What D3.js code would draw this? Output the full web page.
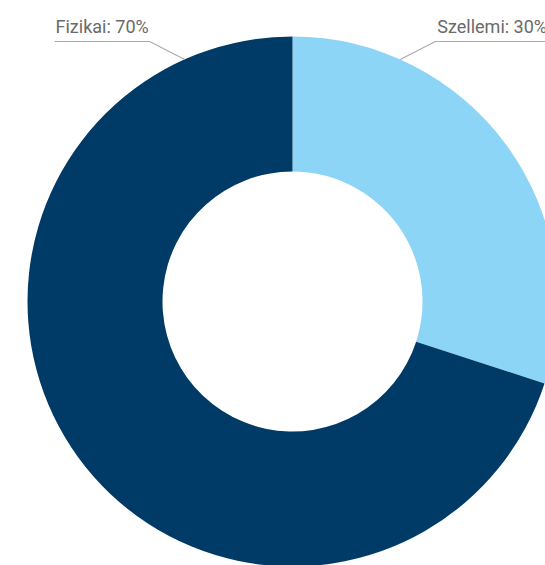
<!DOCTYPE html>
<html>
<head>
<meta charset="utf-8">
<script src="https://cdn.jsdelivr.net/npm/d3@7"></script>
<style>
  html, body { margin: 0; padding: 0; background: #fff; overflow: hidden; }
  svg { display: block; }
</style>
</head>
<body>
<svg id="chart" width="545" height="565"></svg>
<script>
// Share of work types
const categories = ["Szellemi", "Fizikai"];
const values = [30, 70];
const colors = ["#8dd5f6", "#003b67"];

const width = 545, height = 565;
const cx = 292.5, cy = 301.5;
const outerR = 265, innerR = 130;

const svg = d3.select("#chart");
const g = svg.append("g").attr("transform", `translate(${cx},${cy})`);

const data = categories.map((c, i) => ({ name: c, value: values[i], color: colors[i] }));
const pie = d3.pie().value(d => d.value).sort(null);
const arc = d3.arc().innerRadius(innerR).outerRadius(outerR);
const arcs = pie(data);

g.selectAll("path.slice")
  .data(arcs)
  .join("path")
  .attr("class", "slice")
  .attr("d", arc)
  .attr("fill", d => d.data.color);

// Leader lines and labels sit above the ring, one on each side of the top
const anchorOffset = 24 * Math.PI / 180;
const elbowDx = 35;
const lineY = -outerR + 5;

arcs.forEach(d => {
  const right = (d.startAngle + d.endAngle) / 2 < Math.PI;
  const a = right ? d.startAngle + anchorOffset : d.endAngle - anchorOffset;
  const ax = outerR * Math.sin(a), ay = -outerR * Math.cos(a);
  const ex = ax + (right ? elbowDx : -elbowDx);
  const ey = lineY;

  const label = g.append("text")
    .attr("x", right ? ex + 2 : ex - 1)
    .attr("y", ey - 9)
    .attr("text-anchor", right ? "start" : "end")
    .attr("font-family", "Roboto, 'Noto Sans', sans-serif")
    .attr("font-size", 18)
    .attr("fill", "#6a6a6a")
    .text(`${d.data.name}: ${d.data.value}%`);
  const tw = label.node().getComputedTextLength();
  const tx = right ? ex + tw + 4 : ex - tw - 2;

  g.append("polyline")
    .attr("points", [[ax, ay], [ex, ey], [tx, ey]].map(p => p.join(",")).join(" "))
    .attr("fill", "none")
    .attr("stroke", "#aaaaaa")
    .attr("stroke-width", 1.2);
});
</script>
</body>
</html>
